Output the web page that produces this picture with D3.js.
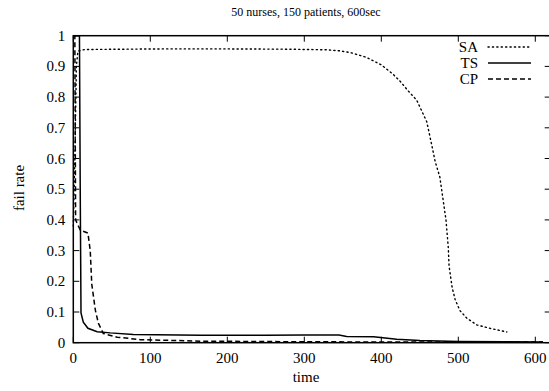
<!DOCTYPE html>
<html>
<head>
<meta charset="utf-8">
<script src="https://cdn.jsdelivr.net/npm/d3@7"></script>
<style>
  body { margin: 0; background: #fff; }
</style>
</head>
<body>
<svg id="chart"></svg>
<script>
const title = "50 nurses, 150 patients, 600sec";
const xTicks = [0, 100, 200, 300, 400, 500, 600];
const yTicks = [0, 0.1, 0.2, 0.3, 0.4, 0.5, 0.6, 0.7, 0.8, 0.9, 1];

// SA (dotted)
const saTime = [0, 2, 4, 6, 15, 60, 120, 200, 280, 330, 345, 360, 380, 400, 415, 425, 435, 446, 459, 465, 470, 476, 480, 484, 487, 488, 492, 496, 502, 511, 524, 541, 563];
const saRate = [0.38, 0.6, 0.9, 0.95, 0.955, 0.956, 0.957, 0.957, 0.956, 0.954, 0.951, 0.945, 0.93, 0.905, 0.875, 0.85, 0.82, 0.79, 0.72, 0.65, 0.59, 0.54, 0.47, 0.40, 0.31, 0.25, 0.18, 0.14, 0.105, 0.08, 0.058, 0.047, 0.035];

// TS (solid)
const tsTime = [0, 8, 9, 10, 13, 19, 31, 48, 78, 166, 250, 300, 345, 355, 390, 420, 450, 500, 560, 610];
const tsRate = [1, 1, 0.5, 0.097, 0.067, 0.047, 0.036, 0.032, 0.027, 0.024, 0.024, 0.025, 0.025, 0.02, 0.019, 0.011, 0.007, 0.004, 0.003, 0.002];

// CP (dashed)
const cpTime = [0, 2, 3, 9, 19, 22, 24, 28.7, 32.6, 39, 57, 87, 166, 300, 450, 610];
const cpRate = [1, 1, 0.4, 0.367, 0.357, 0.3, 0.19, 0.105, 0.063, 0.03, 0.018, 0.01, 0.005, 0.003, 0.002, 0.002];

const series = [
  { name: "SA", time: saTime, rate: saRate, dash: "1.2,3.2", cap: "round", width: 1.4 },
  { name: "TS", time: tsTime, rate: tsRate, dash: null, cap: "butt", width: 1.5 },
  { name: "CP", time: cpTime, rate: cpRate, dash: "5,3", cap: "butt", width: 1.5 }
];

const W = 549, H = 391;
const margin = { top: 35.7, right: -1.7, bottom: 48.3, left: 73.3 };
const serif = "'Liberation Serif', 'Times New Roman', Times, 'DejaVu Serif', serif";

const svg = d3.select("#chart").attr("width", W).attr("height", H)
  .attr("font-family", serif);

const x = d3.scaleLinear().domain([0, 620]).range([margin.left, W - margin.right]);
const y = d3.scaleLinear().domain([0, 1]).range([H - margin.bottom, margin.top]);

// Ticks (inward, mirrored)
const tickLen = 6;
const axes = svg.append("g").attr("stroke", "#000").attr("stroke-width", 1);
xTicks.forEach(t => {
  axes.append("line").attr("x1", x(t)).attr("x2", x(t)).attr("y1", y(0)).attr("y2", y(0) - tickLen);
  axes.append("line").attr("x1", x(t)).attr("x2", x(t)).attr("y1", y(1)).attr("y2", y(1) + tickLen);
});
yTicks.forEach(t => {
  axes.append("line").attr("x1", x(0)).attr("x2", x(0) + tickLen).attr("y1", y(t)).attr("y2", y(t));
  axes.append("line").attr("x1", x(620)).attr("x2", x(620) - tickLen).attr("y1", y(t)).attr("y2", y(t));
});

// Tick labels
svg.append("g").selectAll("text").data(xTicks).join("text")
  .attr("font-family", serif)
  .attr("x", d => x(d)).attr("y", y(0) + 20)
  .attr("text-anchor", "middle").attr("font-size", 15)
  .text(d => d);
svg.append("g").selectAll("text").data(yTicks).join("text")
  .attr("font-family", serif)
  .attr("x", x(0) - 8).attr("y", d => y(d) + 5)
  .attr("text-anchor", "end").attr("font-size", 15)
  .text(d => d3.format("~g")(d));

// Data lines
const line = d3.line().x(d => x(d[0])).y(d => y(d[1]));
series.forEach(s => {
  svg.append("path")
    .datum(s.time.map((t, i) => [t, s.rate[i]]))
    .attr("d", line)
    .attr("fill", "none")
    .attr("stroke", "#000")
    .attr("stroke-width", s.width)
    .attr("stroke-linecap", s.cap)
    .attr("stroke-dasharray", s.dash);
});

// Border
svg.append("rect")
  .attr("x", x(0)).attr("y", y(1))
  .attr("width", x(620) - x(0)).attr("height", y(0) - y(1))
  .attr("fill", "none").attr("stroke", "#000").attr("stroke-width", 1.5);

// Legend
const legend = svg.append("g");
series.forEach((s, i) => {
  const ly = 47 + i * 16;
  legend.append("text").attr("font-family", serif).attr("x", 478).attr("y", ly + 5)
    .attr("text-anchor", "end").attr("font-size", 15).text(s.name);
  legend.append("line").attr("x1", 488).attr("x2", 531).attr("y1", ly).attr("y2", ly)
    .attr("stroke", "#000").attr("stroke-width", s.width)
    .attr("stroke-linecap", s.cap).attr("stroke-dasharray", s.dash);
});

// Titles
svg.append("text").attr("font-family", serif).attr("x", 306).attr("y", 16).attr("text-anchor", "middle")
  .attr("font-size", 12).text(title);
svg.append("text").attr("font-family", serif).attr("x", 306).attr("y", 382).attr("text-anchor", "middle")
  .attr("font-size", 15).text("time");
svg.append("text").attr("font-family", serif).attr("transform", "translate(24,188) rotate(-90)")
  .attr("text-anchor", "middle").attr("font-size", 15).text("fail rate");
</script>
</body>
</html>
